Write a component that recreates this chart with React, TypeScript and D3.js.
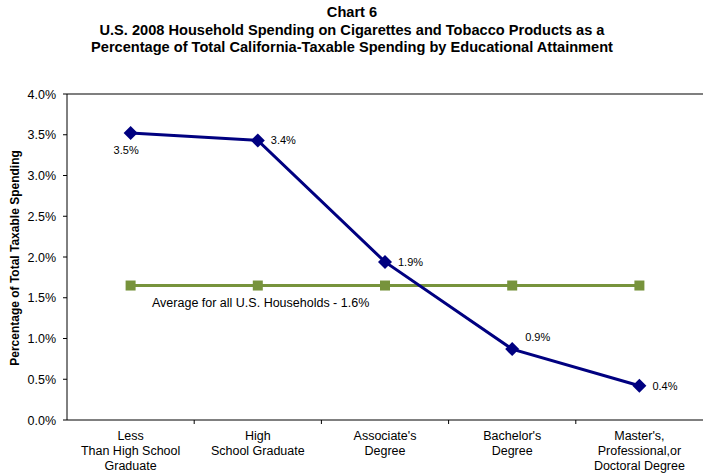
import React from "react";
import * as d3 from "d3";

const categories: string[][] = [
  ["Less", "Than High School", "Graduate"],
  ["High", "School Graduate"],
  ["Associate's", "Degree"],
  ["Bachelor's", "Degree"],
  ["Master's,", "Professional,or", "Doctoral Degree"],
];
const spending = [3.52, 3.43, 1.94, 0.87, 0.42];
const spendingLabels = ["3.5%", "3.4%", "1.9%", "0.9%", "0.4%"];
const average = [1.65, 1.65, 1.65, 1.65, 1.65];
const yTicks = [0, 0.5, 1, 1.5, 2, 2.5, 3, 3.5, 4];

const W = 703, H = 475;
const left = 67, right = 703, top = 94, bottom = 420;
const font = "Liberation Sans, Arial, sans-serif";

export default function App() {
  const x = d3.scaleBand<number>().domain(d3.range(categories.length)).range([left, right]);
  const y = d3.scaleLinear().domain([0, 4]).range([bottom, top]);
  const cx = (i: number) => (x(i) as number) + x.bandwidth() / 2;
  const line = d3.line<number>().x((_, i) => cx(i)).y((d) => y(d));
  const labelOffsets = [
    { dx: -17, dy: 21, anchor: "start" },
    { dx: 13, dy: 4, anchor: "start" },
    { dx: 13, dy: 4, anchor: "start" },
    { dx: 13, dy: -8, anchor: "start" },
    { dx: 13, dy: 4, anchor: "start" },
  ];
  return (
    <svg width={W} height={H} style={{ position: "absolute", left: 0, top: 0, background: "#fff" }} fontFamily={font}>
      <g fontWeight="bold" fontSize={14.6} textAnchor="middle" fill="#000">
        <text x={352} y={17}>Chart 6</text>
        <text x={352} y={35}>U.S. 2008 Household Spending on Cigarettes and Tobacco Products as a</text>
        <text x={352} y={52}>Percentage of Total California-Taxable Spending by Educational Attainment</text>
      </g>
      <line x1={left} x2={right} y1={top} y2={top} stroke="#7f7f7f" strokeWidth={2} />
      <line x1={left} x2={left} y1={top} y2={bottom} stroke="#000" strokeWidth={1} />
      <line x1={left} x2={right} y1={bottom} y2={bottom} stroke="#000" strokeWidth={1} />
      {yTicks.map((t) => (
        <g key={t}>
          <line x1={left - 4} x2={left} y1={y(t)} y2={y(t)} stroke="#000" />
          <text x={left - 11} y={y(t) + 4.5} fontSize={12.5} textAnchor="end" fill="#000">
            {t.toFixed(1)}%
          </text>
        </g>
      ))}
      {d3.range(1, categories.length).map((i) => (
        <line key={i} x1={x(i) as number} x2={x(i) as number} y1={bottom} y2={bottom + 4} stroke="#000" />
      ))}
      {categories.map((lines, i) => (
        <text key={i} x={cx(i)} fontSize={12.5} textAnchor="middle" fill="#000">
          {lines.map((l, j) => (
            <tspan key={j} x={cx(i)} y={440 + j * 15}>{l}</tspan>
          ))}
        </text>
      ))}
      <text
        transform={`translate(19,${(top + bottom) / 2 + 1}) rotate(-90)`}
        fontSize={12}
        fontWeight="bold"
        textAnchor="middle"
        fill="#000"
      >
        Percentage of Total Taxable Spending
      </text>
      <path d={line(average) || ""} fill="none" stroke="#77933C" strokeWidth={3} />
      {average.map((v, i) => (
        <rect key={i} x={cx(i) - 5} y={y(v) - 5} width={10} height={10} fill="#77933C" />
      ))}
      <text x={152} y={307} fontSize={12.5} fill="#000">Average for all U.S. Households - 1.6%</text>
      <path d={line(spending) || ""} fill="none" stroke="#000080" strokeWidth={3} />
      {spending.map((v, i) => (
        <path
          key={i}
          d={`M${cx(i)},${y(v) - 7}L${cx(i) + 7},${y(v)}L${cx(i)},${y(v) + 7}L${cx(i) - 7},${y(v)}Z`}
          fill="#000080"
        />
      ))}
      {spending.map((v, i) => (
        <text key={i} x={cx(i) + labelOffsets[i].dx} y={y(v) + labelOffsets[i].dy} fontSize={11} fill="#000" textAnchor={labelOffsets[i].anchor}>
          {spendingLabels[i]}
        </text>
      ))}
    </svg>
  );
}
